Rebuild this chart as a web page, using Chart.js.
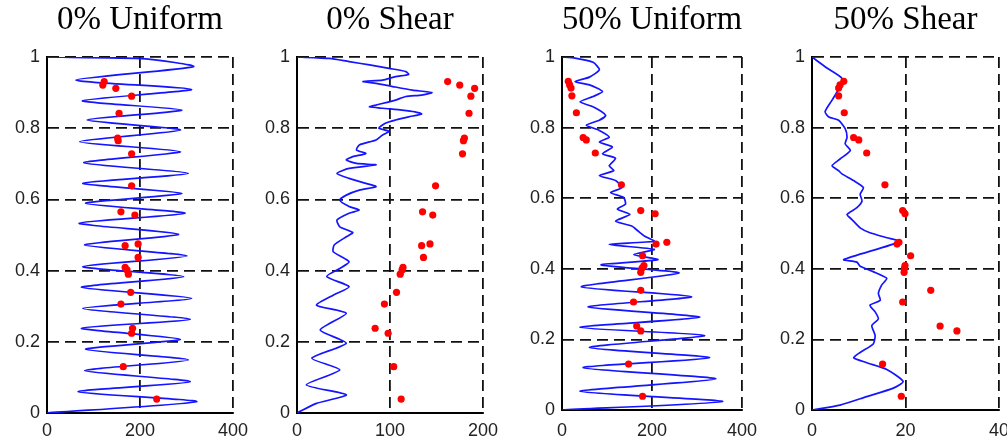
<!DOCTYPE html>
<html>
<head>
<meta charset="utf-8">
<script src="https://cdn.jsdelivr.net/npm/chart.js@4.4.1/dist/chart.umd.min.js"></script>
<style>
  html, body { margin: 0; padding: 0; background: #fff; width: 1007px; height: 441px; overflow: hidden; }
  canvas { position: absolute; top: 0; }
</style>
</head>
<body>
<canvas id="uniform0" width="252" height="441" style="left:3px"></canvas>
<canvas id="shear0" width="252" height="441" style="left:253px"></canvas>
<canvas id="uniform50" width="249" height="441" style="left:518px"></canvas>
<canvas id="shear50" width="251" height="441" style="left:768px"></canvas>
<script>
// measurement heights shared by all four panels (red dots)
const probeHeights = [0.931, 0.921, 0.912, 0.890, 0.842, 0.772, 0.765, 0.728, 0.638, 0.565, 0.556,
  0.475, 0.470, 0.437, 0.409, 0.402, 0.390, 0.339, 0.306, 0.238, 0.224, 0.130, 0.039];

const uniform0DotsX = [123, 120, 148, 182, 155, 152, 153, 182, 182, 159, 189,
  196, 168, 196, 168, 172, 175, 180, 159, 184, 182, 164, 236];
const shear0DotsX = [162, 175, 191, 187, 185, 180, 179, 178, 149, 135, 146,
  143, 134, 136, 114, 113, 111, 107, 94, 84, 98, 104, 112];
const uniform50DotsX = [14, 17, 20, 22, 32, 47, 54, 74, 132, 175, 207,
  233, 209, 179, 182, 178, 175, 175, 159, 166, 175, 148, 179];
const shear50DotsX = [6.8, 6.0, 5.7, 5.7, 6.9, 8.9, 10.0, 11.7, 15.6, 19.4, 19.9,
  18.6, 18.2, 21.1, 19.9, 19.8, 19.7, 25.4, 19.4, 27.4, 31.0, 15.1, 19.1];

// simulated profiles (blue lines)
const uniform0LineY = [0, 0.032, 0.060, 0.088, 0.119, 0.149, 0.179, 0.207, 0.238, 0.263, 0.294, 0.322,
  0.353, 0.383, 0.411, 0.441, 0.472, 0.502, 0.533, 0.561, 0.589, 0.617, 0.645, 0.673, 0.703, 0.734,
  0.762, 0.795, 0.823, 0.851, 0.877, 0.909, 0.935, 0.973, 0.995, 1];
const uniform0LineX = [0, 322, 67, 308, 81, 304, 83, 287, 74, 308, 77, 311,
  74, 294, 77, 301, 81, 283, 69, 297, 83, 290, 77, 304, 79, 287,
  70, 287, 86, 290, 76, 311, 62, 315, 212, 0];

const shear0LineY = [0, 0.027, 0.051, 0.079, 0.121, 0.154, 0.196, 0.233, 0.280, 0.303, 0.331, 0.355,
  0.383, 0.406, 0.425, 0.453, 0.472, 0.495, 0.507, 0.523, 0.542, 0.561, 0.570, 0.580, 0.598, 0.612,
  0.626, 0.636, 0.645, 0.659, 0.673, 0.687, 0.697, 0.701, 0.711, 0.720, 0.729, 0.739, 0.753, 0.767,
  0.781, 0.791, 0.800, 0.814, 0.823, 0.832, 0.840, 0.846, 0.851, 0.856, 0.860, 0.865, 0.879, 0.889,
  0.893, 0.900, 0.907, 0.917, 0.926, 0.931, 0.935, 0.945, 0.951, 0.959, 0.968, 0.978, 0.987, 0.996, 1];
const shear0LineX = [0, 21, 53, 10, 46, 16, 53, 25, 53, 21, 39, 56,
  32, 46, 56, 39, 40, 53, 60, 46, 43, 56, 67, 56, 46, 53,
  67, 85, 74, 56, 43, 56, 85, 64, 53, 60, 74, 64, 67, 85,
  92, 99, 88, 95, 106, 120, 134, 127, 113, 92, 78, 85, 106, 117,
  134, 145, 124, 103, 85, 71, 92, 106, 120, 117, 99, 78, 56, 35, 0];

const uniform50LineY = [0, 0.024, 0.053, 0.088, 0.120, 0.148, 0.177, 0.211, 0.234, 0.263, 0.292, 0.321,
  0.349, 0.388, 0.411, 0.426, 0.440, 0.455, 0.469, 0.478, 0.492, 0.507, 0.521, 0.535, 0.554, 0.569,
  0.583, 0.602, 0.616, 0.630, 0.650, 0.664, 0.678, 0.692, 0.713, 0.726, 0.745, 0.759, 0.773, 0.792,
  0.807, 0.821, 0.835, 0.859, 0.873, 0.888, 0.902, 0.921, 0.930, 0.943, 0.964, 0.985, 0.997, 1];
const uniform50LineX = [0, 357, 40, 342, 47, 328, 61, 317, 40, 306, 58, 288,
  43, 260, 87, 213, 160, 205, 105, 205, 184, 169, 155, 119, 151, 123,
  141, 137, 108, 133, 119, 83, 115, 105, 119, 90, 112, 83, 105, 83,
  54, 83, 97, 69, 40, 69, 90, 61, 29, 61, 83, 69, 29, 0];

const shear50LineY = [0, 0.014, 0.038, 0.062, 0.081, 0.115, 0.134, 0.148, 0.163, 0.187, 0.211, 0.239,
  0.258, 0.278, 0.297, 0.311, 0.330, 0.354, 0.373, 0.392, 0.407, 0.419, 0.426, 0.477, 0.488, 0.502,
  0.516, 0.540, 0.554, 0.573, 0.592, 0.611, 0.630, 0.650, 0.669, 0.678, 0.692, 0.711, 0.735, 0.754,
  0.773, 0.797, 0.821, 0.830, 0.845, 0.878, 0.916, 0.940, 0.969, 1];
const shear50LineX = [0, 6.0, 11.7, 17.4, 19.5, 16.0, 11.7, 8.9, 10.3, 13.1, 13.5, 12.8,
  14.2, 13.5, 12.4, 14.6, 14.2, 14.9, 16.0, 13.1, 10.3, 9.6, 6.8, 18.8, 16.0, 12.4,
  10.3, 8.5, 7.5, 9.6, 10.7, 10.3, 11.0, 8.9, 6.4, 5.7, 4.3, 6.0, 8.2, 7.1,
  7.5, 7.1, 5.7, 3.6, 2.8, 4.3, 6.0, 6.4, 3.2, 0];

const yTicks = [0, 0.2, 0.4, 0.6, 0.8, 1];

function toPoints(xs, ys) {
  return xs.map((x, i) => ({ x: x, y: ys[i] }));
}

function makePanel(id, title, xMax, lineX, lineY, dotsX, axisHeight, labelGap) {
  const ctx = document.getElementById(id).getContext('2d');
  new Chart(ctx, {
    type: 'scatter',
    data: {
      datasets: [
        {
          label: 'measured',
          data: toPoints(dotsX, probeHeights),
          backgroundColor: '#ff0000',
          borderWidth: 0,
          pointRadius: 3.6,
        },
        {
          label: 'simulated',
          data: toPoints(lineX, lineY),
          showLine: true,
          borderColor: '#1414ff',
          borderWidth: 1.7,
          pointRadius: 0,
          tension: 0.2,
        },
      ],
    },
    options: {
      responsive: false,
      animation: false,
      events: [],
      layout: { padding: { left: 0, right: 20, top: 0, bottom: 0 } },
      plugins: {
        legend: { display: false },
        tooltip: { enabled: false },
        title: {
          display: true,
          text: title,
          fullSize: false,
          color: '#000',
          font: { family: 'Liberation Serif', size: 33, weight: 'normal' },
          padding: { top: 1, bottom: 16.4 },
        },
      },
      scales: {
        x: {
          type: 'linear',
          min: 0,
          max: xMax,
          afterFit: (scale) => { scale.height = axisHeight; },
          ticks: {
            stepSize: xMax / 2,
            padding: labelGap,
            color: '#222',
            font: { family: 'Liberation Sans', size: 18 },
          },
          grid: { color: '#111', lineWidth: 1.8, drawTicks: false },
          border: { display: true, color: '#000', width: 2, dash: [11, 6] },
        },
        y: {
          type: 'linear',
          min: 0,
          max: 1,
          afterFit: (scale) => { scale.width = 44; },
          afterBuildTicks: (scale) => { scale.ticks = yTicks.map(v => ({ value: v })); },
          ticks: {
            padding: 7,
            color: '#222',
            font: { family: 'Liberation Sans', size: 18 },
            callback: (value) => String(Math.round(value * 10) / 10),
          },
          grid: { color: '#111', lineWidth: 1.8, drawTicks: false },
          border: { display: true, color: '#000', width: 2, dash: [11, 6] },
        },
      },
    },
  });
}

makePanel('uniform0', '0% Uniform', 400, uniform0LineX, uniform0LineY, uniform0DotsX, 28, 7);
makePanel('shear0', '0% Shear', 200, shear0LineX, shear0LineY, shear0DotsX, 28, 7);
makePanel('uniform50', '50% Uniform', 400, uniform50LineX, uniform50LineY, uniform50DotsX, 31, 10);
makePanel('shear50', '50% Shear', 40, shear50LineX, shear50LineY, shear50DotsX, 31, 10);
</script>
</body>
</html>
